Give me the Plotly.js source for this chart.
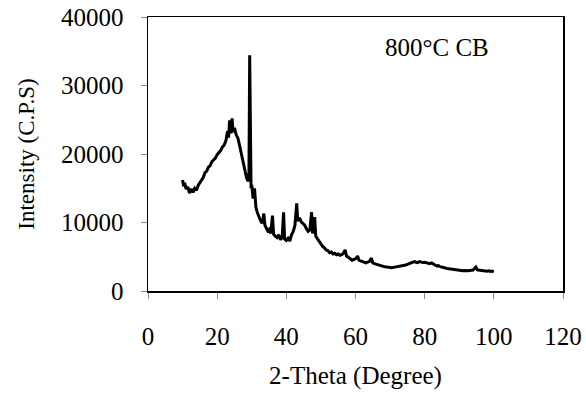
<!DOCTYPE html>
<html>
<head>
<meta charset="utf-8">
<script src="https://cdn.plot.ly/plotly-3.0.1.min.js"></script>
<style>html,body{margin:0;padding:0;background:#fff;}#chart{width:586px;height:394px;}</style>
</head>
<body>
<div id="chart"></div>
<script>
const twoTheta = [10,10.3,10.6,11,11.5,12,12.5,13,13.5,14,14.5,15,15.5,16,16.5,17,17.5,18,18.5,19,19.5,20,20.5,21,21.5,22,22.5,23,23.3,23.6,24,24.3,24.6,25,25.5,26,26.5,27,27.5,28,28.5,29,29.2,29.4,29.6,29.8,30,30.4,30.8,31.2,31.6,32,32.5,33,33.5,33.8,34.2,34.6,35,35.5,36,36.3,36.8,37.3,37.8,38.3,38.8,39.2,39.5,40,40.5,41,41.5,42,42.5,43,43.3,43.8,44.3,44.8,45.3,45.8,46.3,46.8,47.3,47.6,48.2,48.5,49,49.5,50,50.5,51,51.5,52,52.5,53,53.5,54,54.5,55,55.5,56,56.5,57,57.4,58,58.5,59,59.5,60,60.6,61,61.5,62,62.5,63,63.5,64,64.6,65,65.5,66,66.5,67,67.5,68,68.5,69,69.5,70,70.5,71,71.5,72,72.5,73,73.5,74,74.5,75,75.5,76,76.5,77,77.5,78,78.5,79,79.5,80,80.5,81,81.5,82,82.5,83,83.5,84,84.5,85,85.5,86,86.5,87,87.5,88,88.5,89,89.5,90,90.5,91,91.5,92,92.5,93,93.5,94,94.8,95.2,95.5,96,96.5,97,97.5,98,98.5,99,99.5,100];
const intensity = [16200,15300,15800,14900,15200,14300,14900,14400,15000,14700,15400,15800,16300,16600,17300,17500,18100,18300,18900,19200,19400,19900,20200,20500,21000,21300,21900,23300,22400,24900,23000,25200,23200,23800,22800,22300,21200,20100,18800,17600,16500,16000,17500,34400,17000,15000,15500,13500,15000,12200,11500,10800,10300,9900,11300,9600,9200,8800,9000,8400,11000,8300,8000,7800,8200,7500,7800,11500,7600,7400,7700,7300,8200,8700,9600,12800,10200,10700,10100,9800,9600,9100,8700,8900,11500,8400,10800,8000,7600,7200,6900,6500,6300,6000,5900,5600,5700,5400,5500,5300,5400,5200,5300,5500,6000,5100,4900,4700,4500,4600,4700,5100,4500,4400,4300,4200,4100,4200,4300,4800,4100,4000,3900,3850,3750,3700,3600,3550,3500,3450,3450,3400,3450,3500,3450,3550,3550,3650,3700,3800,3900,4000,4100,4250,4300,4200,4150,4300,4200,4150,4200,4100,4050,4000,4100,3900,3800,3650,3700,3550,3450,3400,3350,3300,3250,3200,3150,3100,3100,3050,3000,3000,2950,3000,2950,2950,3000,3050,3050,3500,3100,3050,3000,3050,3000,2950,2900,2950,2850,2900,2800];
const xTicks = [0,20,40,60,80,100,120];
const yTicks = [0,10000,20000,30000,40000];
const sampleLabel = "800\u00B0C CB";

const font = {family: "Liberation Serif, Times New Roman, serif", color: "#000"};
const f = s => Object.assign({size: s}, font);
Plotly.newPlot("chart", [{
  x: twoTheta, y: intensity, type: "scatter", mode: "lines",
  line: {color: "#000", width: 3}, hoverinfo: "skip"
}], {
  width: 586, height: 394,
  margin: {l: 148, r: 23, t: 17, b: 103},
  paper_bgcolor: "#fff", plot_bgcolor: "#fff",
  showlegend: false,
  font: f(24),
  xaxis: {
    range: [0, 120], tickvals: xTicks, ticktext: xTicks.map(String),
    showgrid: false, zeroline: false, showline: true, mirror: true,
    linecolor: "#000", linewidth: 1.5,
    ticks: "outside", ticklen: 6, tickcolor: "#888", tickwidth: 1,
    ticklabelstandoff: 16,
    tickfont: f(25),
    title: {text: "2-Theta (Degree)", font: f(25), standoff: 18}
  },
  yaxis: {
    range: [0, 40000], tickvals: yTicks, ticktext: yTicks.map(String),
    showgrid: false, zeroline: false, showline: true, mirror: true,
    linecolor: "#000", linewidth: 1.5,
    ticks: "outside", ticklen: 6, tickcolor: "#888", tickwidth: 1,
    ticklabelstandoff: 12,
    tickfont: f(25),
    title: {text: "Intensity (C.P.S)", font: f(23), standoff: 20}
  },
  annotations: [{
    x: 83.5, y: 35600, xref: "x", yref: "y", text: sampleLabel, showarrow: false,
    font: f(25)
  }]
}, {staticPlot: true});
</script>
</body>
</html>
